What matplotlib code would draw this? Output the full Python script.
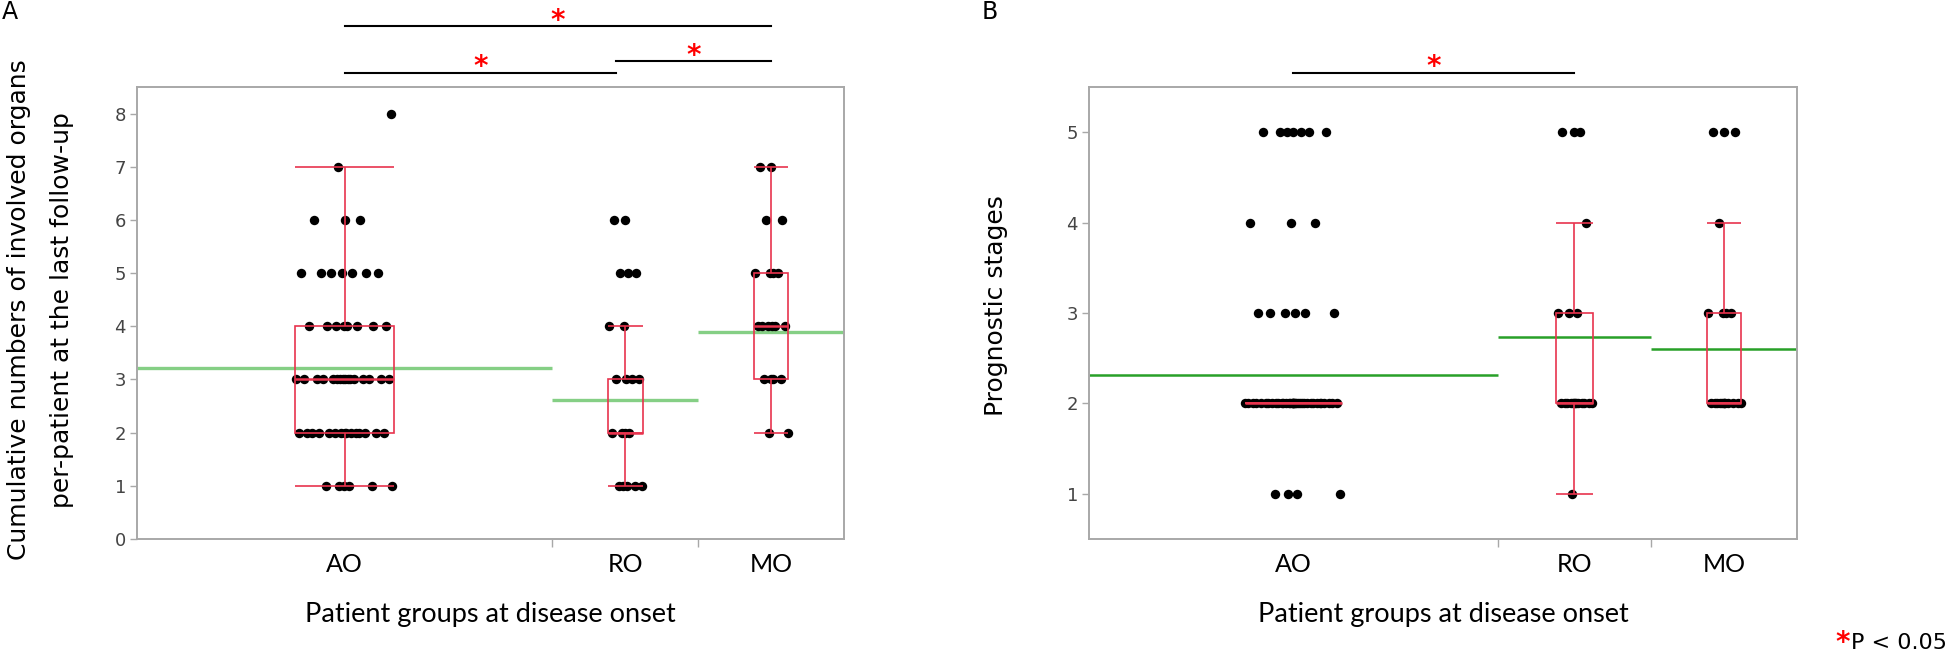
import numpy as np
import matplotlib
matplotlib.use('Agg')
import matplotlib.pyplot as plt
from matplotlib.patches import Rectangle

groups = ['AO', 'RO', 'MO']

# panel A - cumulative numbers of involved organs, one value per patient
organs_ao = [1, 1, 1, 1, 1, 1,
             2, 2, 2, 2, 2, 2, 2, 2, 2, 2, 2, 2, 2, 2, 2,
             3, 3, 3, 3, 3, 3, 3, 3, 3, 3, 3, 3, 3, 3, 3, 3,
             4, 4, 4, 4, 4, 4, 4, 4,
             5, 5, 5, 5, 5, 5, 5,
             6, 6, 6, 7, 8]
organs_ro = [1, 1, 1, 1, 1, 2, 2, 2, 2, 3, 3, 3, 3, 4, 4, 5, 5, 5, 6, 6]
organs_mo = [2, 2, 3, 3, 3, 3, 4, 4, 4, 4, 4, 4, 5, 5, 5, 5, 6, 6, 7, 7]
organs_lo = [1, 1, 2]
organs_q1 = [2, 2, 3]
organs_med = [3, 2, 4]
organs_q3 = [4, 3, 5]
organs_hi = [7, 4, 7]
organs_mean = [3.22, 2.62, 3.89]

# panel B - prognostic stages
stage_ao = [1, 1, 1, 1,
            2, 2, 2, 2, 2, 2, 2, 2, 2, 2, 2, 2, 2, 2, 2, 2, 2, 2,
            2, 2, 2, 2, 2, 2, 2, 2, 2, 2, 2, 2, 2, 2, 2, 2, 2, 2,
            3, 3, 3, 3, 3, 3,
            4, 4, 4,
            5, 5, 5, 5, 5, 5, 5]
stage_ro = [1, 2, 2, 2, 2, 2, 2, 2, 2, 2, 2, 2, 2, 2, 3, 3, 3, 4, 5, 5, 5]
stage_mo = [2, 2, 2, 2, 2, 2, 2, 2, 2, 2, 2, 2, 3, 3, 3, 3, 4, 5, 5, 5]
stage_lo = [2, 1, 2]
stage_q1 = [2, 2, 2]
stage_med = [2, 2, 2]
stage_q3 = [2, 3, 3]
stage_hi = [2, 4, 4]
stage_mean = [2.31, 2.73, 2.60]

RED = '#e8344e'
GREY = '#a8a8a8'
NARROW = ['Liberation Sans Narrow', 'DejaVu Sans']
LABEL_FONT = ['Lato', 'DejaVu Sans']

fig = plt.figure(figsize=(19.46, 6.54), dpi=100)
axA = fig.add_axes([137/1946, 115/654, 707/1946, 452/654])
axB = fig.add_axes([1089/1946, 115/654, 708/1946, 452/654])


def draw_panel(ax, data, lo, q1, med, q3, hi, means, ylim, yticks, mean_color, mean_lw):
    n = np.array([len(d) for d in data])
    edges = np.concatenate([[0], np.cumsum(n)])
    centers = (edges[:-1] + edges[1:]) / 2
    for i, vals in enumerate(data):
        c = centers[i]
        w = n[i] * 0.237
        half = w / 2
        ax.hlines(means[i], edges[i], edges[i + 1], color=mean_color, lw=mean_lw, zorder=2)
        vals = np.sort(np.array(vals, dtype=float))
        k = np.arange(len(vals))
        u = (k * 0.618034 + 0.37) % 1 * 2 - 1
        offs = u * np.abs(u) ** 0.6 * half
        ax.scatter(c + offs, vals, s=46, color='black', linewidths=0, zorder=3)
        ax.add_patch(Rectangle((c - half, q1[i]), w, q3[i] - q1[i], fill=False,
                               ec=RED, lw=1.2, zorder=4))
        ax.vlines(c, lo[i], q1[i], color=RED, lw=1.2, zorder=4)
        ax.vlines(c, q3[i], hi[i], color=RED, lw=1.2, zorder=4)
        ax.hlines([lo[i], hi[i]], c - half, c + half, color=RED, lw=1.2, zorder=4)
        ax.hlines(med[i], c - half, c + half, color=RED, lw=1.8, zorder=4)
    ax.set_xlim(edges[0], edges[-1])
    ax.set_ylim(*ylim)
    ax.set_yticks(yticks)
    ax.set_yticklabels([str(t) for t in yticks], family=NARROW, fontsize=13, color='#444444')
    ax.set_xticks(centers)
    ax.set_xticklabels(groups, family=LABEL_FONT, fontsize=18)
    ax.set_xticks(edges[1:-1], minor=True)
    ax.tick_params(axis='x', which='major', length=0, pad=10)
    ax.tick_params(axis='x', which='minor', length=6, color=GREY, width=1)
    ax.tick_params(axis='y', length=5, color=GREY, width=1, pad=3)
    for sp in ax.spines.values():
        sp.set_color(GREY)
        sp.set_linewidth(1.4)
    ax.text(0.5, -0.184, 'Patient groups at disease onset', transform=ax.transAxes,
            ha='center', va='baseline', family=LABEL_FONT, fontsize=19.5)
    return centers


def sig_bar(ax, x0, x1, y_bar, y_star):
    tr = ax.get_xaxis_transform()
    ax.plot([x0, x1], [y_bar, y_bar], color='black', lw=1.5, transform=tr, clip_on=False)
    ax.text((x0 + x1) / 2, y_star, '*', color='red', fontsize=20, fontweight='bold',
            ha='center', va='center', transform=tr)


cA = draw_panel(axA, [organs_ao, organs_ro, organs_mo], organs_lo, organs_q1, organs_med,
                organs_q3, organs_hi, organs_mean, (0, 8.5), range(0, 9), '#85cf85', 2.4)
cB = draw_panel(axB, [stage_ao, stage_ro, stage_mo], stage_lo, stage_q1, stage_med,
                stage_q3, stage_hi, stage_mean, (0.5, 5.5), range(1, 6), '#28a028', 1.8)

fig.text(41/1946, 1 - 310/654,
         'Cumulative numbers of involved organs\nper-patient at the last follow-up',
         rotation=90, ha='center', va='center', multialignment='center',
         fontsize=18, linespacing=2.0)
fig.text(996/1946, 1 - 306/654, 'Prognostic stages', rotation=90,
         ha='center', va='center', fontsize=18)

gap = 1.3
sig_bar(axA, cA[0], cA[2], 1.1356, 1.145)
sig_bar(axA, cA[0], cA[1] - gap, 1.0316, 1.045)
sig_bar(axA, cA[1] - gap, cA[2], 1.0582, 1.068)
sig_bar(axB, cB[0], cB[1], 1.0316, 1.045)

fig.text(2/1946, 1 - 12/654, 'A', family=NARROW, fontsize=17, va='center', ha='left')
fig.text(982/1946, 1 - 12/654, 'B', family=NARROW, fontsize=17, va='center', ha='left')
fig.text(1850/1946, 1 - 643/654, '*', color='red', fontsize=20, fontweight='bold',
         ha='right', va='center')
fig.text(1851/1946, 1 - 643/654, 'P < 0.05', family=NARROW, fontsize=16, ha='left', va='center')

fig.savefig('out.png', dpi=100)
